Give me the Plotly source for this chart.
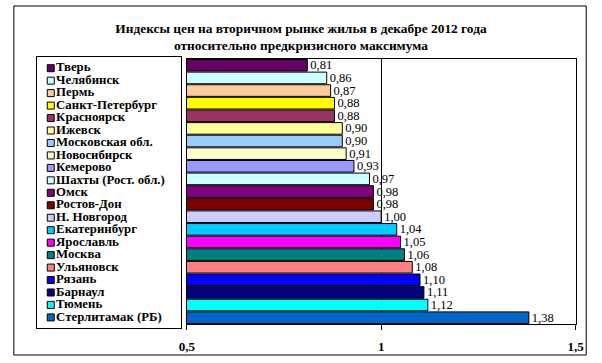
import plotly.graph_objects as go

cities = ["Тверь", "Челябинск", "Пермь", "Санкт-Петербург", "Красноярск", "Ижевск",
          "Московская обл.", "Новосибирск", "Кемерово", "Шахты (Рост. обл.)", "Омск",
          "Ростов-Дон", "Н. Новгород", "Екатеринбург", "Ярославль", "Москва",
          "Ульяновск", "Рязань", "Барнаул", "Тюмень", "Стерлитамак (РБ)"]
values = [0.81, 0.86, 0.87, 0.88, 0.88, 0.90, 0.90, 0.91, 0.93, 0.97, 0.98,
          0.98, 1.00, 1.04, 1.05, 1.06, 1.08, 1.10, 1.11, 1.12, 1.38]
colors = ["#660066", "#CCFFFF", "#FFCC99", "#FFFF00", "#993366", "#FFFF99",
          "#99CCFF", "#FFFFCC", "#9999FF", "#CCFFFF", "#800080",
          "#800000", "#CCCCFF", "#00CCFF", "#FF00FF", "#008080",
          "#FF8080", "#0000FF", "#000080", "#00FFFF", "#0066CC"]
x_ticks = [0.5, 1, 1.5]
x_tick_labels = ["0,5", "1", "1,5"]
title_text = "Индексы цен на вторичном рынке жилья в декабре 2012 года<br>относительно предкризисного максимума"

W, H = 602, 363
SERIF = "Liberation Serif"

def px(x):
    return x / W

def py(y):
    return (H - y) / H

fig = go.Figure()

fig.add_trace(go.Bar(
    x=values, y=cities, orientation="h",
    marker=dict(color=colors, line=dict(color="black", width=1)),
    width=0.92,
    texttemplate="%{x:.2f}", textposition="outside", constraintext="none",
    textfont=dict(family=SERIF, size=12.5, color="black"),
    cliponaxis=False, showlegend=False, hoverinfo="skip",
    xaxis="x", yaxis="y",
))

fig.add_trace(go.Scatter(
    x=[0] * len(cities), y=cities, mode="markers+text",
    marker=dict(symbol="square", size=7, color=colors, line=dict(color="black", width=1)),
    text=cities, textposition="middle right",
    textfont=dict(family=SERIF, size=12.8, color="black", weight="bold"),
    cliponaxis=False, showlegend=False, hoverinfo="skip",
    xaxis="x2", yaxis="y2",
))

fig.update_layout(
    width=W, height=H,
    margin=dict(l=0, r=0, t=0, b=0),
    paper_bgcolor="white", plot_bgcolor="white",
    separators=", ",
    title=dict(text=title_text, x=0.5, xanchor="center", y=py(33), yanchor="middle",
               font=dict(family=SERIF, size=13.4, color="black", weight="bold")),
    xaxis=dict(domain=[px(184), px(584)], range=[0.5, 1.5], tickvals=x_ticks,
               ticktext=x_tick_labels, ticks="outside", ticklen=5, tickcolor="black",
               showline=True, linecolor="black", linewidth=1, mirror=True,
               showgrid=True, gridcolor="black", gridwidth=1, zeroline=False,
               ticklabelstandoff=5,
               tickfont=dict(family=SERIF, size=13, color="black", weight="bold"),
               anchor="y", fixedrange=True),
    yaxis=dict(domain=[py(324), py(59)], categoryorder="array", categoryarray=cities,
               autorange="reversed", showticklabels=False, ticks="",
               showline=True, linecolor="black", linewidth=1, mirror=True,
               showgrid=False, zeroline=False, anchor="x", fixedrange=True),
    xaxis2=dict(domain=[px(30), px(178)], range=[-14, 134], visible=True,
                showticklabels=False, ticks="", showgrid=False, zeroline=False,
                showline=True, linecolor="black", linewidth=1, mirror=True,
                anchor="y2", fixedrange=True),
    yaxis2=dict(domain=[py(328), py(57)], categoryorder="array", categoryarray=cities,
                range=[20.85, -0.9], showticklabels=False, ticks="", showgrid=False,
                zeroline=False, showline=True, linecolor="black", linewidth=1, mirror=True,
                anchor="x2", fixedrange=True),
    shapes=[dict(type="rect", xref="paper", yref="paper",
                 x0=px(6), x1=px(595), y0=py(355), y1=py(6),
                 line=dict(color="black", width=1), fillcolor="rgba(0,0,0,0)", layer="below")],
)

fig.write_html("out.html", config={"displayModeBar": False},
               post_script="document.body.style.margin='0';document.body.style.overflow='hidden';")
